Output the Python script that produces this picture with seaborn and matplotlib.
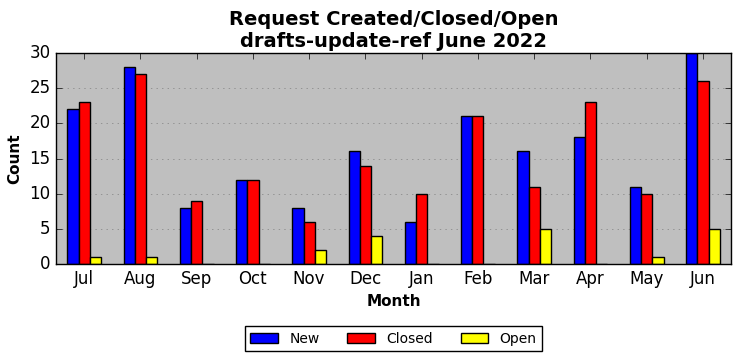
import pandas as pd
import matplotlib.pyplot as plt
import seaborn as sns

months = ["Jul", "Aug", "Sep", "Oct", "Nov", "Dec", "Jan", "Feb", "Mar", "Apr", "May", "Jun"]
new = [22, 28, 8, 12, 8, 16, 6, 21, 16, 18, 11, 30]
closed = [23, 27, 9, 12, 6, 14, 10, 21, 11, 23, 10, 26]
opened = [1, 1, 0, 0, 2, 4, 0, 0, 5, 0, 1, 5]

plt.style.use("classic")

df = pd.DataFrame({"Month": months, "New": new, "Closed": closed, "Open": opened})
long = df.melt(id_vars="Month", var_name="Status", value_name="Count")

fig = plt.figure(figsize=(7.42, 3.61), dpi=100)
ax = fig.add_axes([56 / 742, 1 - 264 / 361, 675 / 742, 211 / 361])

sns.barplot(data=long, x="Month", y="Count", hue="Status", order=months,
            hue_order=["New", "Closed", "Open"],
            palette=["blue", "red", "yellow"], width=0.6, gap=0,
            edgecolor="black", linewidth=1, saturation=1, ax=ax)

ax.set_xlim(-0.5, 11.5)
ax.set_ylim(0, 30)
ax.set_facecolor("#bfbfbf")
ax.yaxis.grid(True, linestyle=":", color="gray")
ax.xaxis.grid(False)
ax.set_axisbelow(True)
ax.tick_params(labelsize=12)
ax.set_title("Request Created/Closed/Open\ndrafts-update-ref June 2022",
             fontsize=14, fontweight="bold", pad=4)
ax.set_xlabel("Month", fontsize=11, fontweight="bold")
ax.set_ylabel("Count", fontsize=11, fontweight="bold")
ax.legend(loc="upper center", bbox_to_anchor=(0.5, -0.262), ncol=3,
          fontsize=10, title=None)

fig.savefig("out.png", dpi=100)
